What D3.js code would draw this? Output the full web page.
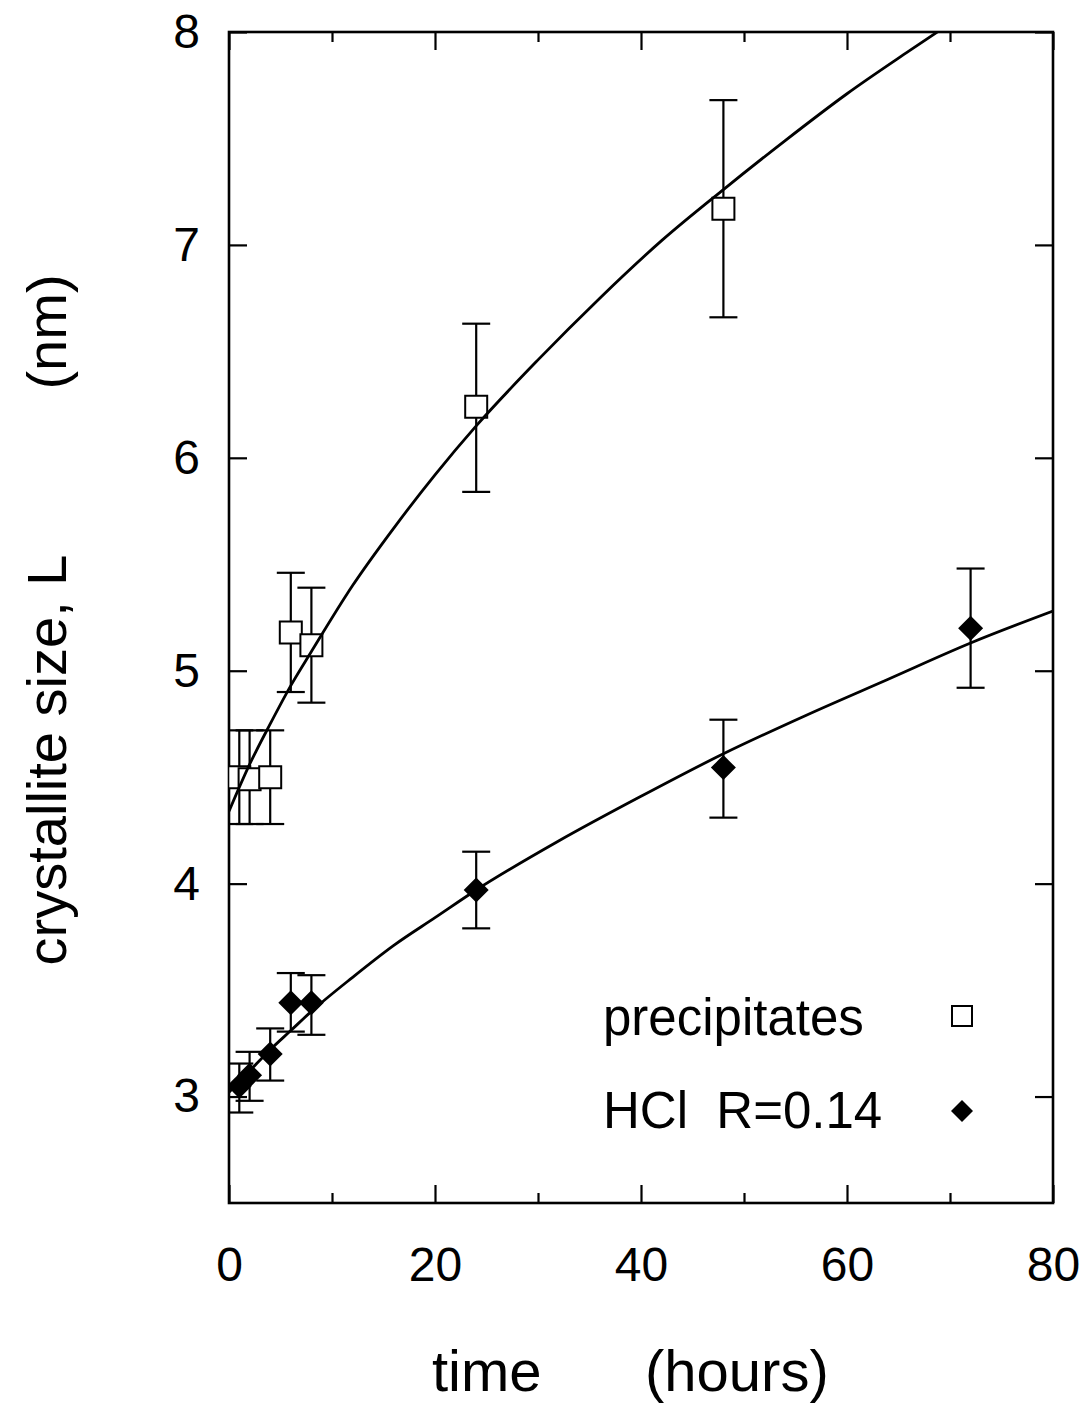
<!DOCTYPE html>
<html>
<head>
<meta charset="utf-8">
<script src="https://cdn.jsdelivr.net/npm/d3@7"></script>
<style>
  body { margin: 0; background: #fff; }
  svg text { font-family: "Liberation Sans", Arial, Helvetica, sans-serif; fill: #000; }
  .axis text { font-size: 48px; }
  .axis line { stroke: #000; stroke-width: 2.2; }
</style>
</head>
<body>
<figure id="graph" style="margin:0"></figure>
<script>
// precipitates (open squares)
const precTime = [1, 2, 4, 6, 8, 24, 48];
const precSize = [4.50, 4.49, 4.50, 5.18, 5.12, 6.24, 7.17];
const precLow  = [4.28, 4.28, 4.28, 4.90, 4.85, 5.84, 6.66];
const precHigh = [4.72, 4.72, 4.72, 5.46, 5.39, 6.63, 7.68];

// HCl R=0.14 (filled diamonds)
const hclTime = [1, 2, 4, 6, 8, 24, 48, 72];
const hclSize = [3.05, 3.10, 3.20, 3.44, 3.44, 3.97, 4.545, 5.20];
const hclLow  = [2.925, 2.98, 3.075, 3.305, 3.29, 3.79, 4.31, 4.92];
const hclHigh = [3.155, 3.21, 3.32, 3.58, 3.57, 4.15, 4.77, 5.48];

// fitted curves
const precFitTime = [0, 2, 4, 6, 8, 12, 16, 20, 24, 30, 36, 42, 48, 54, 60, 66, 70];
const precFitSize = [4.34, 4.56, 4.75, 4.93, 5.09, 5.40, 5.67, 5.92, 6.15, 6.46, 6.75, 7.02, 7.26, 7.49, 7.71, 7.91, 8.04];
const hclFitTime = [0, 2, 4, 6, 8, 12, 16, 20, 24, 32, 40, 48, 56, 64, 72, 80];
const hclFitSize = [3.02, 3.12, 3.22, 3.31, 3.40, 3.56, 3.71, 3.84, 3.97, 4.20, 4.41, 4.61, 4.79, 4.96, 5.13, 5.28];

const xTicks = [0, 20, 40, 60, 80];
const xMinorTicks = [10, 30, 50, 70];
const yTicks = [3, 4, 5, 6, 7, 8];

const legendLabels = ['precipitates', 'HCl  R=0.14'];

const W = 1085, H = 1418;
const plotLeft = 229, plotRight = 1053, plotTop = 32, plotBottom = 1203;

const svg = d3.select('figure#graph')
  .append('svg')
  .attr('width', W)
  .attr('height', H);

const xScale = d3.scaleLinear().domain([0, 80]).range([plotLeft, plotRight]);
const yScale = d3.scaleLinear().domain([2.5, 8]).range([plotBottom, plotTop]);

svg.append('defs').append('clipPath').attr('id', 'plot')
  .append('rect')
  .attr('x', plotLeft).attr('y', plotTop)
  .attr('width', plotRight - plotLeft).attr('height', plotBottom - plotTop);

// axes, ticks pointing inward
svg.append('g')
  .attr('class', 'axis')
  .attr('transform', `translate(0, ${plotBottom})`)
  .call(d3.axisBottom(xScale).tickValues(xTicks).tickSizeInner(-18).tickSizeOuter(0).tickPadding(44))
  .call(g => g.select('.domain').remove());

svg.append('g')
  .attr('class', 'axis')
  .attr('transform', `translate(0, ${plotBottom})`)
  .call(d3.axisBottom(xScale).tickValues(xMinorTicks).tickSizeInner(-10).tickSizeOuter(0).tickFormat(''))
  .call(g => g.select('.domain').remove());

svg.append('g')
  .attr('class', 'axis')
  .attr('transform', `translate(0, ${plotTop})`)
  .call(d3.axisTop(xScale).tickValues(xTicks).tickSizeInner(-18).tickSizeOuter(0).tickFormat(''))
  .call(g => g.select('.domain').remove());

svg.append('g')
  .attr('class', 'axis')
  .attr('transform', `translate(0, ${plotTop})`)
  .call(d3.axisTop(xScale).tickValues(xMinorTicks).tickSizeInner(-10).tickSizeOuter(0).tickFormat(''))
  .call(g => g.select('.domain').remove());

svg.append('g')
  .attr('class', 'axis')
  .attr('transform', `translate(${plotLeft}, 0)`)
  .call(d3.axisLeft(yScale).tickValues(yTicks).tickFormat(d3.format('d')).tickSizeInner(-18).tickSizeOuter(0).tickPadding(29))
  .call(g => g.select('.domain').remove());

svg.append('g')
  .attr('class', 'axis')
  .attr('transform', `translate(${plotRight}, 0)`)
  .call(d3.axisRight(yScale).tickValues(yTicks).tickSizeInner(-18).tickSizeOuter(0).tickFormat(''))
  .call(g => g.select('.domain').remove());

svg.append('rect')
  .attr('x', plotLeft).attr('y', plotTop)
  .attr('width', plotRight - plotLeft).attr('height', plotBottom - plotTop)
  .attr('fill', 'none')
  .attr('stroke', '#000')
  .attr('stroke-width', 2.6);

const plot = svg.append('g').attr('clip-path', 'url(#plot)');

// error bars
function drawErrors(times, low, high) {
  const cap = 14;
  const g = plot.append('g').attr('stroke', '#000').attr('stroke-width', 2.2);
  times.forEach((t, i) => {
    const x = xScale(t);
    g.append('line').attr('x1', x).attr('x2', x).attr('y1', yScale(low[i])).attr('y2', yScale(high[i]));
    g.append('line').attr('x1', x - cap).attr('x2', x + cap).attr('y1', yScale(low[i])).attr('y2', yScale(low[i]));
    g.append('line').attr('x1', x - cap).attr('x2', x + cap).attr('y1', yScale(high[i])).attr('y2', yScale(high[i]));
  });
}
drawErrors(precTime, precLow, precHigh);
drawErrors(hclTime, hclLow, hclHigh);

const square = d3.symbol().type(d3.symbolSquare).size(22 * 22);
const diamond = 'M0,-12.5L12.5,0L0,12.5L-12.5,0Z';

plot.selectAll('.prec')
  .data(precTime)
  .join('path')
  .attr('class', 'prec')
  .attr('transform', (d, i) => `translate(${xScale(d)}, ${yScale(precSize[i])})`)
  .attr('d', square)
  .attr('fill', '#fff')
  .attr('stroke', '#000')
  .attr('stroke-width', 2);

plot.selectAll('.hcl')
  .data(hclTime)
  .join('path')
  .attr('class', 'hcl')
  .attr('transform', (d, i) => `translate(${xScale(d)}, ${yScale(hclSize[i])})`)
  .attr('d', diamond)
  .attr('fill', '#000');

// fitted curves
const line = d3.line()
  .x(d => xScale(d[0]))
  .y(d => yScale(d[1]))
  .curve(d3.curveMonotoneX);

plot.append('path')
  .datum(d3.zip(precFitTime, precFitSize))
  .attr('fill', 'none')
  .attr('stroke', '#000')
  .attr('stroke-width', 2.8)
  .attr('d', line);

plot.append('path')
  .datum(d3.zip(hclFitTime, hclFitSize))
  .attr('fill', 'none')
  .attr('stroke', '#000')
  .attr('stroke-width', 2.8)
  .attr('d', line);

// legend
const legend = svg.append('g').attr('class', 'legend');
legend.selectAll('text')
  .data(legendLabels)
  .join('text')
  .attr('x', 603)
  .attr('y', (d, i) => 1035 + i * 93)
  .style('font-size', '51px')
  .style('white-space', 'pre')
  .text(d => d);

legend.append('path')
  .attr('transform', 'translate(962, 1016)')
  .attr('d', d3.symbol().type(d3.symbolSquare).size(20 * 20))
  .attr('fill', '#fff')
  .attr('stroke', '#000')
  .attr('stroke-width', 2);

legend.append('path')
  .attr('transform', 'translate(962, 1111)')
  .attr('d', 'M0,-11L11,0L0,11L-11,0Z')
  .attr('fill', '#000');

// axis titles
svg.append('text')
  .attr('x', 432).attr('y', 1391)
  .style('font-size', '58px')
  .text('time');
svg.append('text')
  .attr('x', 645).attr('y', 1391)
  .style('font-size', '58px')
  .text('(hours)');

svg.append('text')
  .attr('transform', 'translate(66, 760) rotate(-90)')
  .attr('text-anchor', 'middle')
  .style('font-size', '56px')
  .text('crystallite size, L');
svg.append('text')
  .attr('transform', 'translate(66, 332) rotate(-90)')
  .attr('text-anchor', 'middle')
  .style('font-size', '56px')
  .text('(nm)');
</script>
</body>
</html>
